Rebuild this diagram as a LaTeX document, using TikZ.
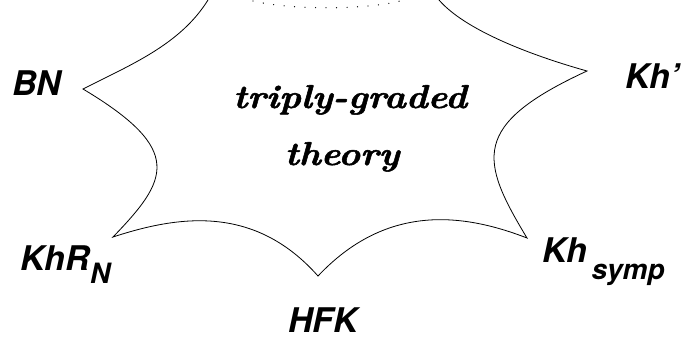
\documentclass[tikz,border=0pt]{standalone}
\usepackage{fontspec}
\usepackage{tikz}
\usetikzlibrary{positioning}
\newfontfamily\heros{TeX Gyre Heros}
\newfontfamily\thyfont{lmroman10-bolditalic.otf}[FakeStretch=1.12, FakeBold=1.6]
\newcommand{\lsub}[2]{\raisebox{-#1}{\fontsize{28}{30}\selectfont #2}}
\tikzset{
  starline/.style={draw=black, line width=0.8pt},
  cutarc/.style={draw=black, line width=1.3pt, line cap=round, dash pattern=on 0pt off 10.5pt},
  lab/.style={font=\heros\bfseries\itshape\fontsize{34}{40}\selectfont, inner sep=0pt, anchor=base west},
  thy/.style={font=\thyfont\fontsize{33}{40}\selectfont, inner sep=0pt, anchor=base},
  pixgrid/.style={x=1pt, y=-1pt}
}

\begin{document}
\begin{tikzpicture}[pixgrid]
        \useasboundingbox (0,0) rectangle (683,341);
        % corners of the star
        \coordinate (pbn) at (83,89);
        \coordinate (pkhr) at (113,237);
        \coordinate (phfk) at (318,276);
        \coordinate (pkhs) at (527,238);
        \coordinate (pkhp) at (587,71);
        \coordinate (tl) at (208,0);
        \coordinate (tr) at (439,0);
        \draw[starline] (tl) .. controls (180,45) and (130,65) .. (pbn)
          .. controls (185,150) and (168,180) .. (pkhr)
          .. controls (180,215) and (255,205) .. (phfk)
          .. controls (385,205) and (460,212) .. (pkhs)
          .. controls (480,160) and (470,125) .. (pkhp)
          .. controls (530,55) and (465,30) .. (tr);
        \coordinate (al) at (253,1);
        \coordinate (ar) at (400,1);
        \draw[cutarc] (al) .. controls (290,10) and (365,10) .. (ar);
        \node[thy] (t1) at (350,108) {triply-graded};
        \node[thy] (t2) at (342,165) {theory};
        \node[lab] (bn) at (12,95) {BN};
        \node[lab] (khp) at (625,88) {Kh’};
        \node[lab] (khr) at (20,270) {KhR\lsub{13pt}{N}};
        \node[lab] (khs) at (542,262) {Kh\kern4pt\lsub{17pt}{symp}};
        \node[lab] (hfk) at (288,332) {HFK};
      \end{tikzpicture}
\end{document}
